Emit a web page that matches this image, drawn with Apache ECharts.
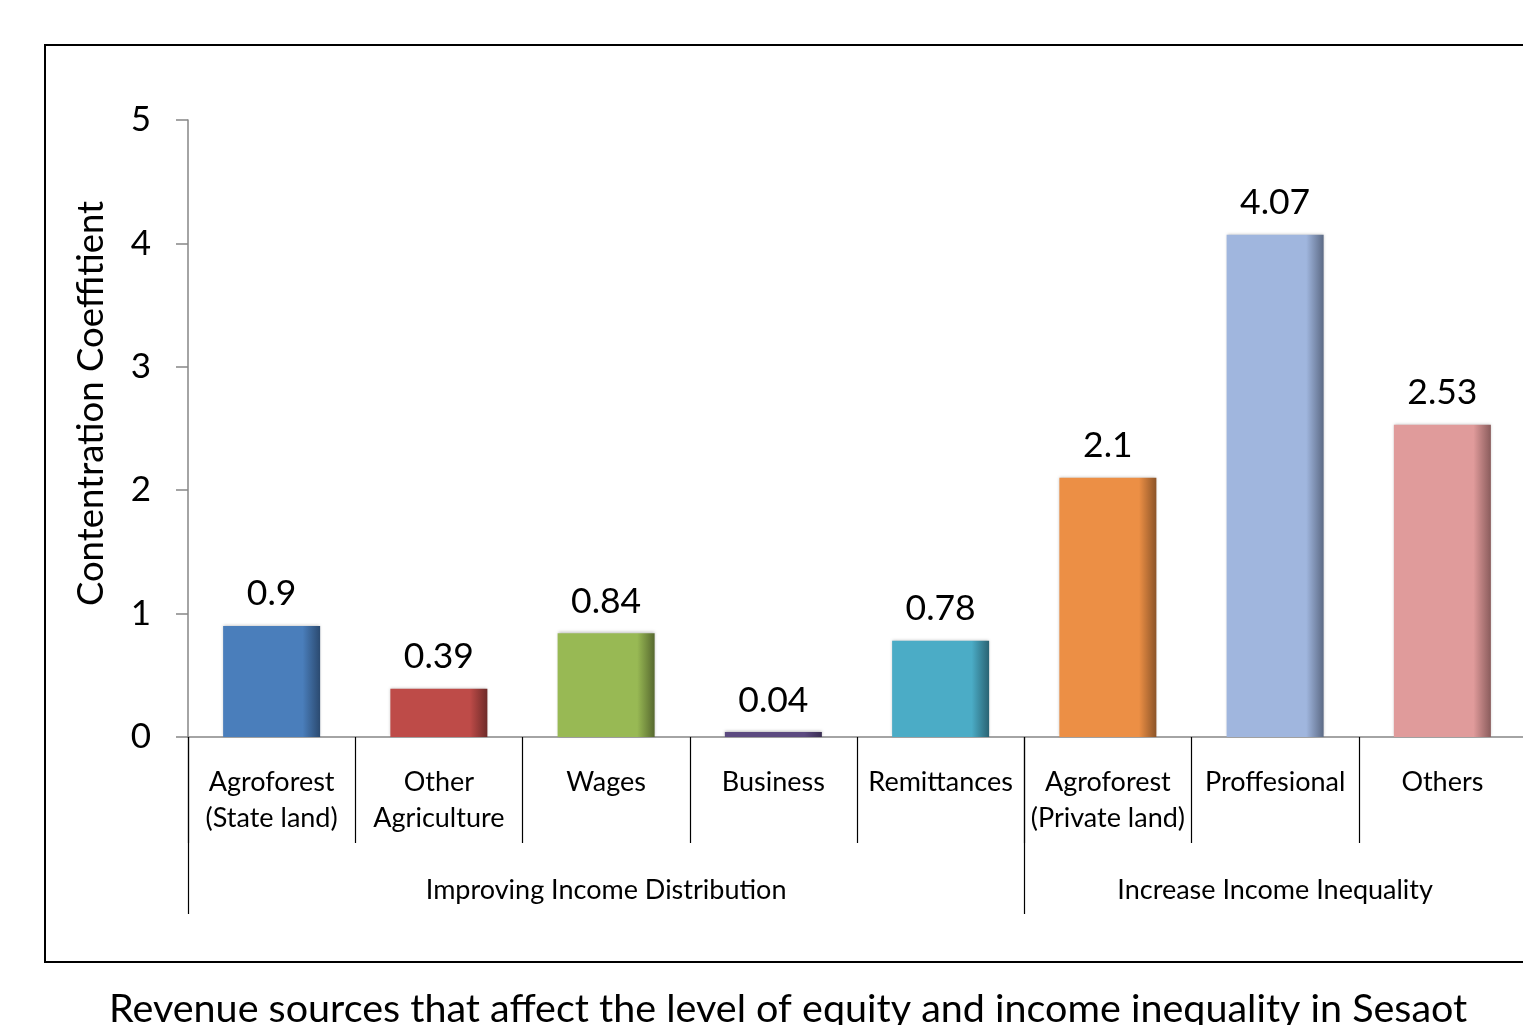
<!DOCTYPE html>
<html><head><meta charset="utf-8">
<script src="https://cdn.jsdelivr.net/npm/echarts@6/dist/echarts.min.js"></script>
<style>html,body{margin:0;padding:0;background:#fff;overflow:hidden}#c{width:1540px;height:1025px}</style>
</head><body><div id="c"></div>
<script>
const categories = ['Agroforest\n(State land)', 'Other\nAgriculture', 'Wages', 'Business', 'Remittances', 'Agroforest\n(Private land)', 'Proffesional', 'Others'];
const values = [0.9, 0.39, 0.84, 0.04, 0.78, 2.1, 4.07, 2.53];
const groupLabels = ['', '', 'Improving Income Distribution', '', '', '', 'Increase Income Inequality', ''];
const groupStarts = [0, 5];
const yTicks = [0, 1, 2, 3, 4, 5];
const barColors = [['#4A7EBB','#2B4A70'], ['#BE4B48','#6E2B29'], ['#98B954','#57692F'], ['#5C4A80','#3A2E52'], ['#4BACC6','#2A6373'], ['#EC8F45','#8C5428'], ['#A0B6DE','#5C6A85'], ['#E09B9B','#8A5C5C']];

const FONT = 'Lato, "Open Sans", sans-serif';
const chart = echarts.init(document.getElementById('c'), null, {renderer: 'canvas'});
function grad(c) {
  return new echarts.graphic.LinearGradient(0, 0, 1, 0, [
    {offset: 0, color: c[0]}, {offset: 0.82, color: c[0]}, {offset: 1, color: c[1]}
  ]);
}
chart.setOption({
  animation: false,
  title: {
    text: 'Revenue sources that affect the level of equity and income inequality in Sesaot',
    left: 104, top: 984,
    textStyle: {fontFamily: FONT, fontSize: 39.5, fontWeight: 'normal', color: '#000'}
  },
  graphic: [{
    type: 'rect', shape: {x: 45, y: 45, width: 1520, height: 917},
    style: {fill: 'none', stroke: '#000', lineWidth: 2}, silent: true
  }],
  grid: {left: 188, right: 14, top: 120, bottom: 288, containLabel: false},
  xAxis: [{
    type: 'category', data: categories, position: 'bottom',
    axisLine: {show: true, lineStyle: {color: '#868686', width: 1.5}},
    axisTick: {show: true, length: 106, interval: 0, lineStyle: {color: '#000', width: 1.2}},
    axisLabel: {interval: 0, margin: 27, fontFamily: FONT, fontSize: 27, color: '#000', lineHeight: 36}
  }, {
    type: 'category', data: groupLabels, position: 'bottom',
    axisLine: {show: false},
    axisTick: {show: true, length: 177, interval: (i) => groupStarts.includes(i), lineStyle: {color: '#000', width: 1.2}},
    axisLabel: {interval: 0, margin: 140, fontFamily: FONT, fontSize: 27, color: '#000'}
  }],
  yAxis: {
    type: 'value', min: 0, max: 5, interval: 1,
    name: 'Contentration Coeffitient', nameLocation: 'middle', nameGap: 78,
    nameTextStyle: {fontFamily: FONT, fontSize: 36.5, color: '#000', padding: [0, 0, 0, 50]},
    axisLine: {show: true, lineStyle: {color: '#868686', width: 1.5}},
    axisTick: {show: true, length: 12, lineStyle: {color: '#868686', width: 1.5}},
    splitLine: {show: false},
    axisLabel: {margin: 37, fontFamily: FONT, fontSize: 35, color: '#000',
      formatter: (v) => yTicks.includes(v) ? String(v) : ''}
  },
  series: [{
    type: 'bar', xAxisIndex: 0, barWidth: '58%',
    data: values.map((v, i) => ({value: v, itemStyle: {color: grad(barColors[i]), shadowColor: 'rgba(0,0,0,0.25)', shadowBlur: 3, shadowOffsetY: -1}})),
    label: {show: true, position: 'top', distance: 14, fontFamily: FONT, fontSize: 35.5, color: '#000',
      formatter: (p) => String(p.value)}
  }]
});
</script></body></html>
